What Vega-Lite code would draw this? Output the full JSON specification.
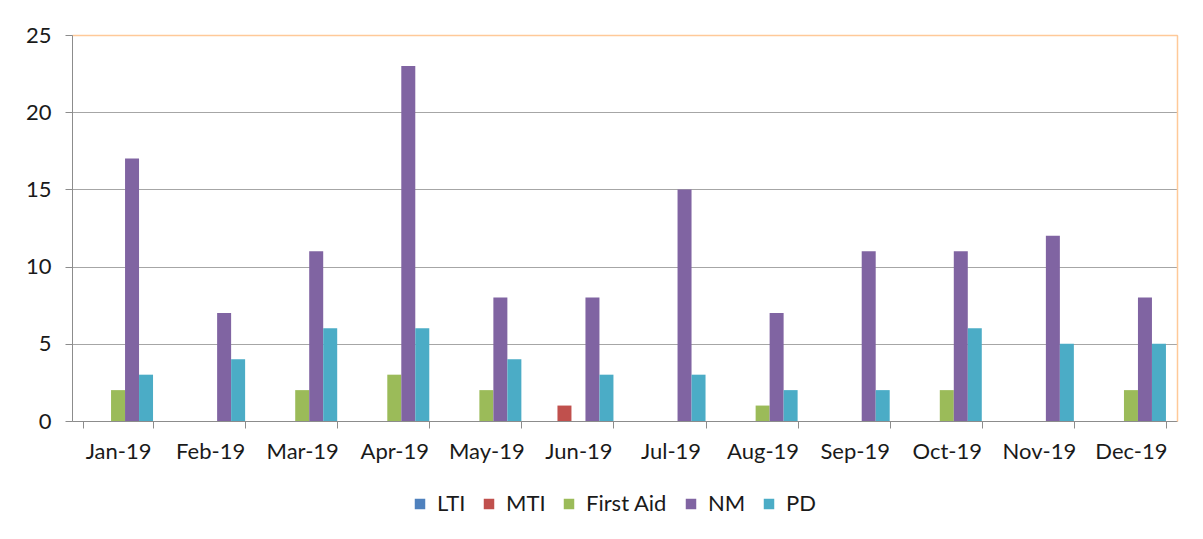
{
  "$schema": "https://vega.github.io/schema/vega-lite/v6.json",
  "width": 1105,
  "height": 386,
  "autosize": {"type": "none"},
  "padding": {"left": 72, "top": 35, "right": 26, "bottom": 118},
  "background": "white",
  "config": {
    "font": "Lato",
    "view": {"stroke": null},
    "axis": {"labelFont": "Lato", "labelColor": "#1a1a1a", "labelFontSize": 22, "domainColor": "#8c8c8c", "tickColor": "#8c8c8c"},
    "legend": {"labelFont": "Lato", "labelFontSize": 22, "labelColor": "#1a1a1a"}
  },
  "data": {
    "values": [
      {"month": "Jan-19", "series": "LTI", "value": 0}, {"month": "Jan-19", "series": "MTI", "value": 0}, {"month": "Jan-19", "series": "First Aid", "value": 2}, {"month": "Jan-19", "series": "NM", "value": 17}, {"month": "Jan-19", "series": "PD", "value": 3},
      {"month": "Feb-19", "series": "LTI", "value": 0}, {"month": "Feb-19", "series": "MTI", "value": 0}, {"month": "Feb-19", "series": "First Aid", "value": 0}, {"month": "Feb-19", "series": "NM", "value": 7}, {"month": "Feb-19", "series": "PD", "value": 4},
      {"month": "Mar-19", "series": "LTI", "value": 0}, {"month": "Mar-19", "series": "MTI", "value": 0}, {"month": "Mar-19", "series": "First Aid", "value": 2}, {"month": "Mar-19", "series": "NM", "value": 11}, {"month": "Mar-19", "series": "PD", "value": 6},
      {"month": "Apr-19", "series": "LTI", "value": 0}, {"month": "Apr-19", "series": "MTI", "value": 0}, {"month": "Apr-19", "series": "First Aid", "value": 3}, {"month": "Apr-19", "series": "NM", "value": 23}, {"month": "Apr-19", "series": "PD", "value": 6},
      {"month": "May-19", "series": "LTI", "value": 0}, {"month": "May-19", "series": "MTI", "value": 0}, {"month": "May-19", "series": "First Aid", "value": 2}, {"month": "May-19", "series": "NM", "value": 8}, {"month": "May-19", "series": "PD", "value": 4},
      {"month": "Jun-19", "series": "LTI", "value": 0}, {"month": "Jun-19", "series": "MTI", "value": 1}, {"month": "Jun-19", "series": "First Aid", "value": 0}, {"month": "Jun-19", "series": "NM", "value": 8}, {"month": "Jun-19", "series": "PD", "value": 3},
      {"month": "Jul-19", "series": "LTI", "value": 0}, {"month": "Jul-19", "series": "MTI", "value": 0}, {"month": "Jul-19", "series": "First Aid", "value": 0}, {"month": "Jul-19", "series": "NM", "value": 15}, {"month": "Jul-19", "series": "PD", "value": 3},
      {"month": "Aug-19", "series": "LTI", "value": 0}, {"month": "Aug-19", "series": "MTI", "value": 0}, {"month": "Aug-19", "series": "First Aid", "value": 1}, {"month": "Aug-19", "series": "NM", "value": 7}, {"month": "Aug-19", "series": "PD", "value": 2},
      {"month": "Sep-19", "series": "LTI", "value": 0}, {"month": "Sep-19", "series": "MTI", "value": 0}, {"month": "Sep-19", "series": "First Aid", "value": 0}, {"month": "Sep-19", "series": "NM", "value": 11}, {"month": "Sep-19", "series": "PD", "value": 2},
      {"month": "Oct-19", "series": "LTI", "value": 0}, {"month": "Oct-19", "series": "MTI", "value": 0}, {"month": "Oct-19", "series": "First Aid", "value": 2}, {"month": "Oct-19", "series": "NM", "value": 11}, {"month": "Oct-19", "series": "PD", "value": 6},
      {"month": "Nov-19", "series": "LTI", "value": 0}, {"month": "Nov-19", "series": "MTI", "value": 0}, {"month": "Nov-19", "series": "First Aid", "value": 0}, {"month": "Nov-19", "series": "NM", "value": 12}, {"month": "Nov-19", "series": "PD", "value": 5},
      {"month": "Dec-19", "series": "LTI", "value": 0}, {"month": "Dec-19", "series": "MTI", "value": 0}, {"month": "Dec-19", "series": "First Aid", "value": 2}, {"month": "Dec-19", "series": "NM", "value": 8}, {"month": "Dec-19", "series": "PD", "value": 5}
    ]
  },
  "layer": [
    {
      "mark": {"type": "bar"},
      "encoding": {
        "x": {
          "field": "month", "type": "nominal",
          "sort": ["Jan-19","Feb-19","Mar-19","Apr-19","May-19","Jun-19","Jul-19","Aug-19","Sep-19","Oct-19","Nov-19","Dec-19"],
          "scale": {"paddingInner": 0.24, "paddingOuter": 0.12},
          "axis": {"title": null, "orient": "bottom", "labelAngle": 0, "tickBand": "extent", "tickSize": 7, "labelPadding": 13, "grid": false}
        },
        "xOffset": {
          "field": "series", "type": "nominal",
          "sort": ["LTI", "MTI", "First Aid", "NM", "PD"],
          "scale": {"paddingInner": 0, "paddingOuter": 0}
        },
        "y": {
          "field": "value", "type": "quantitative",
          "scale": {"domain": [0, 25], "nice": false},
          "axis": {"title": null, "orient": "left", "values": [0, 5, 10, 15, 20, 25], "tickSize": 7, "labelPadding": 14, "grid": true, "gridColor": "#a6a6a6", "gridWidth": 1.2}
        },
        "color": {
          "field": "series", "type": "nominal",
          "scale": {"domain": ["LTI", "MTI", "First Aid", "NM", "PD"], "range": ["#4F81BD", "#C0504D", "#9BBB59", "#8064A2", "#4BACC6"]},
          "legend": {"title": null, "orient": "none", "direction": "horizontal", "legendX": 337, "legendY": 458, "symbolType": "square", "symbolSize": 110, "symbolStrokeWidth": 0, "symbolOpacity": 1, "columnPadding": 12, "labelOffset": 6}
        }
      }
    },
    {
      "mark": {"type": "bar", "opacity": 0},
      "encoding": {
        "x": {
          "field": "month", "type": "nominal",
          "sort": ["Jan-19","Feb-19","Mar-19","Apr-19","May-19","Jun-19","Jul-19","Aug-19","Sep-19","Oct-19","Nov-19","Dec-19"],
          "axis": {"title": null, "orient": "top", "labels": false, "ticks": false, "grid": false, "domainColor": "#FFC999", "domainWidth": 1.5}
        },
        "y": {
          "field": "value", "type": "quantitative",
          "axis": {"title": null, "orient": "right", "labels": false, "ticks": false, "grid": false, "domainColor": "#FFC999", "domainWidth": 1.5}
        }
      }
    }
  ],
  "resolve": {"axis": {"x": "independent", "y": "independent"}}
}
